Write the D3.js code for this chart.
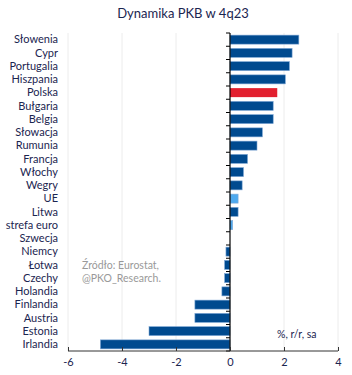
<!DOCTYPE html>
<html>
<head>
<meta charset="utf-8">
<script src="https://cdn.jsdelivr.net/npm/d3@7"></script>
<style>
body{margin:0;background:#fff;}
text{font-family:Lato,sans-serif;}
</style>
</head>
<body>
<script>
var countries=["Słowenia","Cypr","Portugalia","Hiszpania","Polska","Bułgaria","Belgia","Słowacja","Rumunia","Francja","Włochy","Wegry","UE","Litwa","strefa euro","Szwecja","Niemcy","Łotwa","Czechy","Holandia","Finlandia","Austria","Estonia","Irlandia"];
var values=[2.55,2.3,2.2,2.05,1.75,1.6,1.6,1.2,1.0,0.65,0.5,0.45,0.3,0.3,0.1,0.0,-0.15,-0.2,-0.2,-0.3,-1.3,-1.3,-3.0,-4.8];
var xTicks=[-6,-4,-2,0,2,4];

var width=352;
var height=375;
var svg=d3.select("body")
    .append("svg")
    .attr("width",width)
    .attr("height",height);

var x=d3.scaleLinear().domain([-6,4]).range([68,338]);
var y=d3.scaleBand().domain(countries).range([33,351]).paddingInner(0.32).paddingOuter(0.16);

function barColor(c){
    if(c=="Polska") return "#e2202f";
    if(c=="UE"||c=="strefa euro") return "#4ea9ee";
    return "#004a8f";
}

// grid
svg.selectAll("line.grid")
    .data(xTicks.filter(function(d){return d!=0;}))
    .enter()
    .append("line")
    .attr("class","grid")
    .attr("x1",function(d){return x(d);})
    .attr("x2",function(d){return x(d);})
    .attr("y1",33)
    .attr("y2",351)
    .attr("stroke","#ececec")
    .attr("stroke-width",1);

// title
svg.append("text")
    .attr("x",183)
    .attr("y",18)
    .attr("text-anchor","middle")
    .attr("font-size","13px")
    .attr("fill","#1b2550")
    .text("Dynamika PKB w 4q23");

// bars
svg.selectAll("rect.bar")
    .data(values)
    .enter()
    .append("rect")
    .attr("class","bar")
    .attr("x",function(d){return x(Math.min(0,d));})
    .attr("y",function(d,i){return y(countries[i]);})
    .attr("width",function(d){return Math.abs(x(d)-x(0));})
    .attr("height",y.bandwidth())
    .attr("fill",function(d,i){return barColor(countries[i]);})
    .attr("stroke",function(d,i){return countries[i]=="Polska"?"none":"#7fa8d6";})
    .attr("stroke-width",0.6);

// category labels
svg.selectAll("text.cat")
    .data(countries)
    .enter()
    .append("text")
    .attr("class","cat")
    .attr("x",58)
    .attr("y",function(d){return y(d)+y.bandwidth()/2;})
    .attr("dy","0.35em")
    .attr("text-anchor","end")
    .attr("font-size","11px")
    .attr("fill","#1b2550")
    .text(function(d){return d;});

// zero line with ticks
svg.append("line")
    .attr("x1",x(0)).attr("x2",x(0))
    .attr("y1",33).attr("y2",351)
    .attr("stroke","#000").attr("stroke-width",1.2);
var step=y.step();
svg.selectAll("line.ytick")
    .data(d3.range(countries.length+1))
    .enter()
    .append("line")
    .attr("class","ytick")
    .attr("x1",x(0)-4).attr("x2",x(0))
    .attr("y1",function(i){return 33+i*step;})
    .attr("y2",function(i){return 33+i*step;})
    .attr("stroke","#000").attr("stroke-width",1);

// x axis
var xAxis=d3.axisBottom(x).tickValues(xTicks).tickSize(-4).tickPadding(7);
var gx=svg.append("g")
    .attr("transform","translate(0,351)")
    .call(xAxis);
gx.select(".domain").attr("stroke","#333").attr("d","M68,0H338");
gx.selectAll(".tick line").attr("stroke","#333");
gx.selectAll(".tick text")
    .attr("font-size","11px")
    .attr("fill","#1b2550")
    .attr("font-family","Lato, sans-serif")
    .text(function(d){return d<0?"-"+Math.abs(d):d;});

// notes
svg.append("text")
    .attr("x",82).attr("y",269)
    .attr("font-size","10.5px").attr("fill","#999")
    .text("Źródło: Eurostat,");
svg.append("text")
    .attr("x",82).attr("y",282)
    .attr("font-size","10.5px").attr("fill","#999")
    .text("@PKO_Research.");
svg.append("text")
    .attr("x",277).attr("y",338)
    .attr("font-size","10.5px").attr("fill","#1b2550")
    .text("%,  r/r, sa");
</script>
</body>
</html>
